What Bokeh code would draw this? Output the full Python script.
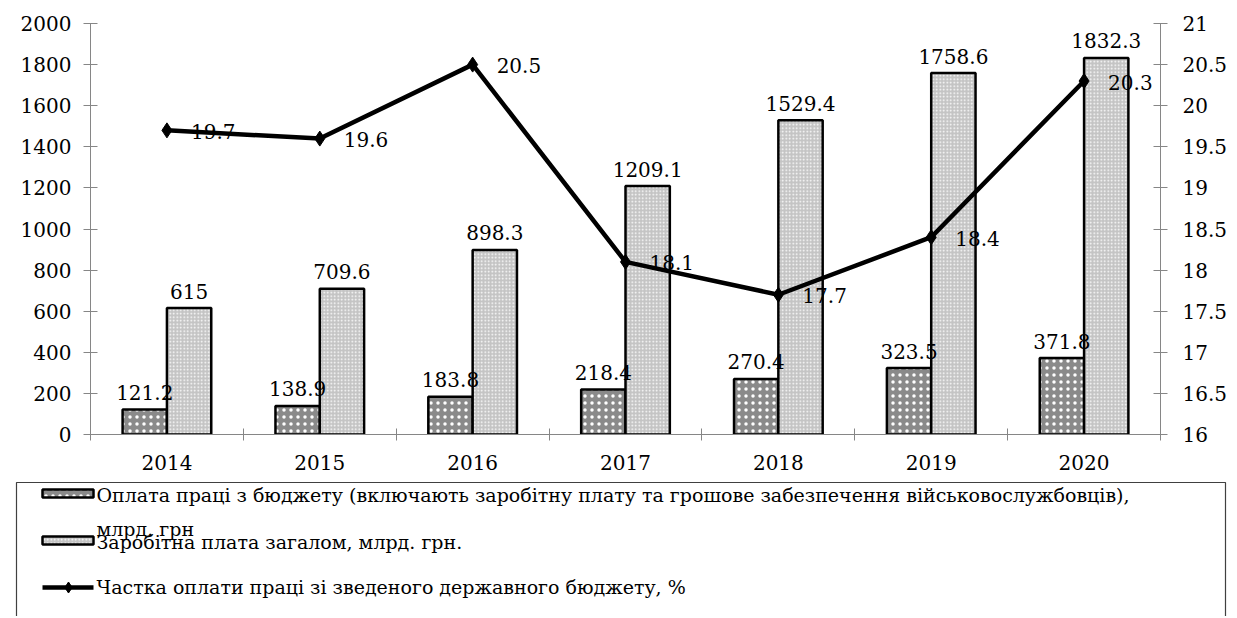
from bokeh.plotting import figure
from bokeh.models import Range1d, LinearAxis, FixedTicker, CustomJSTickFormatter, ColumnDataSource
from bokeh.layouts import column
from bokeh.embed import file_html
from bokeh.resources import INLINE
from bokeh.core.properties import value
from bokeh.transform import dodge

# ---------------- data ----------------
years = ["2014", "2015", "2016", "2017", "2018", "2019", "2020"]
budget_pay = [121.2, 138.9, 183.8, 218.4, 270.4, 323.5, 371.8]
total_wages = [615, 709.6, 898.3, 1209.1, 1529.4, 1758.6, 1832.3]
share_pct = [19.7, 19.6, 20.5, 18.1, 17.7, 18.4, 20.3]
legend_labels = [
    "Оплата праці з бюджету (включають заробітну плату та грошове забезпечення військовослужбовців),",
    "млрд. грн",
    "Заробітна плата загалом, млрд. грн.",
    "Частка оплати праці зі зведеного державного бюджету, %",
]
left_ticks = [0, 200, 400, 600, 800, 1000, 1200, 1400, 1600, 1800, 2000]
right_ticks = [16, 16.5, 17, 17.5, 18, 18.5, 19, 19.5, 20, 20.5, 21]

FONT = "DejaVu Serif"
FS = "20px"
AXIS_COLOR = "#868686"
DARK = "#8a8a8a"
LIGHT = "#c4c4c4"


def fmt(v):
    return f"{v:g}"


n = len(years)
src = ColumnDataSource(dict(
    xc=[i + 0.5 for i in range(n)],
    budget=budget_pay,
    total=total_wages,
    share=share_pct,
    budget_lbl=[fmt(v) for v in budget_pay],
    total_lbl=[fmt(v) for v in total_wages],
    share_lbl=[fmt(v) for v in share_pct],
))

p = figure(width=1235, height=478, x_range=Range1d(0, n), y_range=Range1d(0, 2000),
           output_backend="svg", toolbar_location=None,
           min_border_left=90, min_border_right=75, min_border_top=23, min_border_bottom=44)
p.outline_line_color = None
p.grid.grid_line_color = None
p.background_fill_color = "white"
p.frame_align = False

p.extra_y_ranges = {"pct": Range1d(16, 21)}

# x axis
xa = p.xaxis[0]
xa.ticker = FixedTicker(ticks=[i + 0.5 for i in range(n)], minor_ticks=list(range(n + 1)))
xa.formatter = CustomJSTickFormatter(args=dict(years=years), code="return years[Math.floor(tick)];")
xa.major_tick_in = 0
xa.major_tick_out = 0
xa.minor_tick_in = 6
xa.minor_tick_out = 6
xa.minor_tick_line_color = AXIS_COLOR
xa.axis_line_color = AXIS_COLOR
xa.major_label_standoff = 14
xa.major_label_text_font = FONT
xa.major_label_text_font_size = FS
xa.major_label_text_color = "black"

# left axis
ya = p.yaxis[0]
ya.ticker = FixedTicker(ticks=left_ticks, minor_ticks=[])
ya.major_tick_in = 7
ya.major_tick_out = 7
ya.minor_tick_line_color = None
ya.axis_line_color = AXIS_COLOR
ya.major_tick_line_color = AXIS_COLOR
ya.major_label_standoff = 12
ya.major_label_text_font = FONT
ya.major_label_text_font_size = FS
ya.major_label_text_color = "black"

# right axis
ra = LinearAxis(y_range_name="pct",
                ticker=FixedTicker(ticks=right_ticks, minor_ticks=[]),
                formatter=CustomJSTickFormatter(code="return String(Math.round(tick*10)/10);"))
ra.major_tick_in = 7
ra.major_tick_out = 7
ra.minor_tick_line_color = None
ra.axis_line_color = AXIS_COLOR
ra.major_tick_line_color = AXIS_COLOR
ra.major_label_standoff = 15
ra.major_label_text_font = FONT
ra.major_label_text_font_size = FS
ra.major_label_text_color = "black"
p.add_layout(ra, "right")

BW = 0.29
OFF = 0.145

p.vbar(x=dodge("xc", -OFF), top="budget", bottom=0, width=BW, source=src,
       fill_color=DARK, hatch_pattern="dot", hatch_color="white", hatch_scale=7, hatch_weight=1.5,
       line_color="black", line_width=2.5)
p.vbar(x=dodge("xc", OFF), top="total", bottom=0, width=BW, source=src,
       fill_color=LIGHT, hatch_pattern="dot", hatch_color="white", hatch_scale=3.5, hatch_weight=1.2,
       line_color="black", line_width=2.5)

p.text(x=dodge("xc", -OFF), y="budget", text="budget_lbl", source=src,
       text_align="center", text_baseline="alphabetic", y_offset=-17,
       text_font=value(FONT), text_font_size=FS, text_color="black")
p.text(x=dodge("xc", OFF), y="total", text="total_lbl", source=src,
       text_align="center", text_baseline="alphabetic", y_offset=-17,
       text_font=value(FONT), text_font_size=FS, text_color="black")
p.text(x="xc", y="share", text="share_lbl", source=src, y_range_name="pct",
       text_align="left", text_baseline="middle", x_offset=24, y_offset=1,
       text_font=value(FONT), text_font_size=FS, text_color="black")

p.line(x="xc", y="share", source=src, y_range_name="pct", line_color="black", line_width=4.5)
p.scatter(x="xc", y="share", source=src, y_range_name="pct", marker="diamond", size=15,
          fill_color="black", line_color="black")

# ---------------- legend (separate panel, pixel layout) ----------------
LW, LH = 1235, 138
lg = figure(width=LW, height=LH, x_range=Range1d(0, LW), y_range=Range1d(LH, 0),
            output_backend="svg", toolbar_location=None, min_border=0,
            x_axis_location=None, y_axis_location=None)
lg.outline_line_color = None
lg.grid.grid_line_color = None
lg.frame_align = False

lg.quad(left=[16], right=[1225], top=[4], bottom=[200], fill_color=None,
        line_color="#404040", line_width=1.2)
lg.quad(left=[42], right=[93], top=[11], bottom=[19], fill_color=DARK,
        hatch_pattern="dot", hatch_color="white", hatch_scale=7, hatch_weight=1.2,
        line_color="black", line_width=2.5)
lg.quad(left=[42], right=[93], top=[58], bottom=[66], fill_color=LIGHT,
        hatch_pattern="dot", hatch_color="white", hatch_scale=3.5, hatch_weight=1.0,
        line_color="black", line_width=2.5)
lg.line(x=[42, 93], y=[109, 109], line_color="black", line_width=4.5)
lg.scatter(x=[68], y=[109], marker="diamond", size=11, fill_color="black", line_color="black")
lg.text(x=[96, 96, 96, 96], y=[16, 50, 63, 108], text=legend_labels,
        text_align="left", text_baseline="alphabetic",
        text_font=value(FONT), text_font_size="19px", text_color="black")

layout = column(p, lg)
open("out.html", "w").write(file_html(layout, INLINE))
